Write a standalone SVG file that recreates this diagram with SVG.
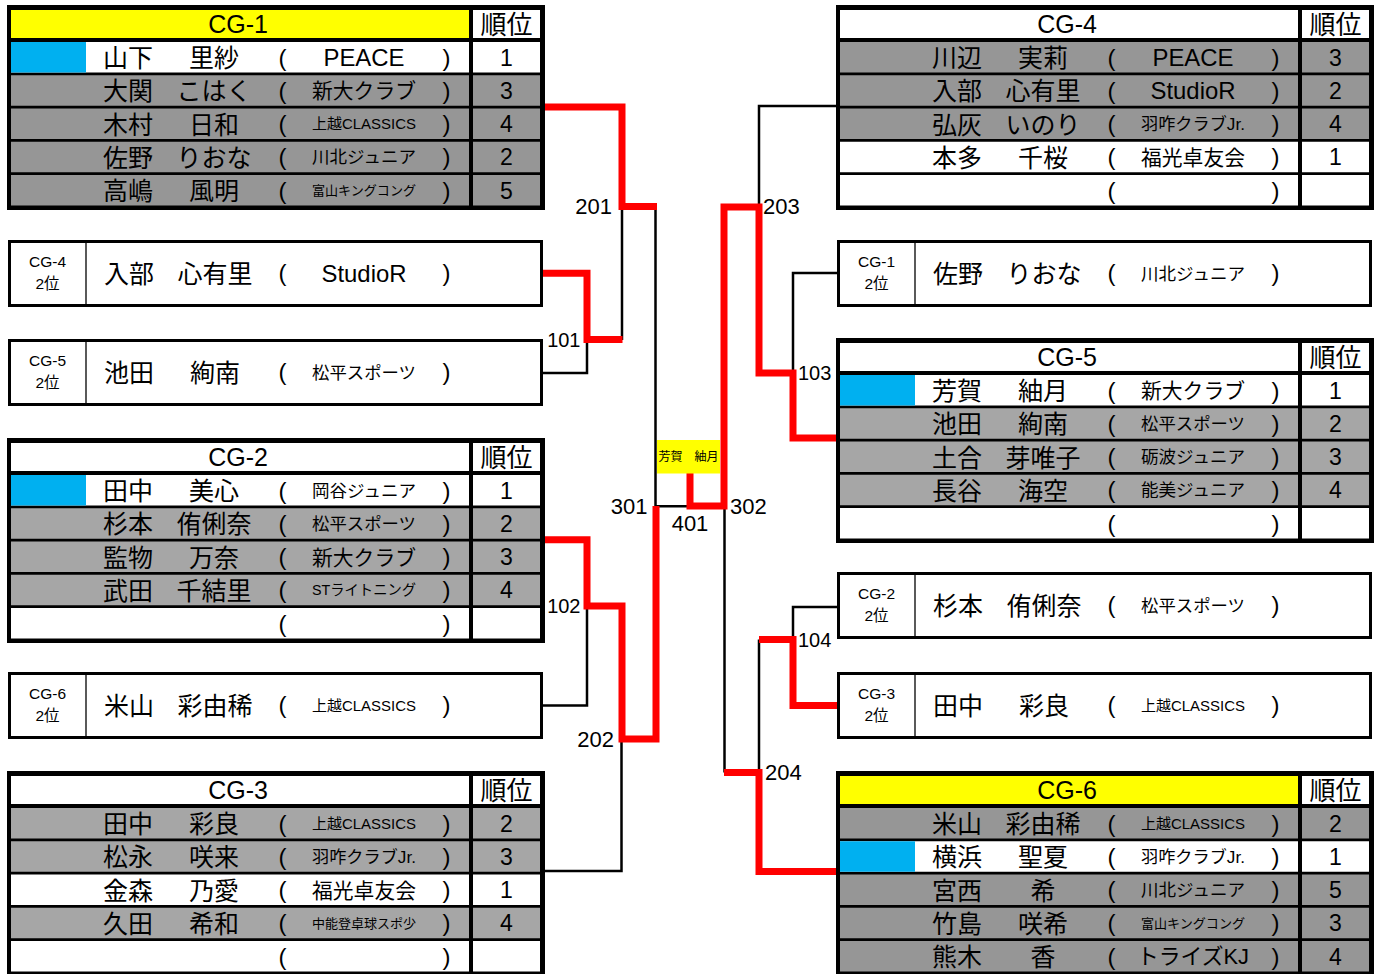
<svg xmlns="http://www.w3.org/2000/svg" width="1381" height="974" viewBox="0 0 1381 974">
<style>
text{font-family:"Liberation Sans","Noto Sans CJK JP",sans-serif;fill:#000}
.bk{fill:#000}.wh{fill:#fff}.g1{fill:#969696}.g2{fill:#a6a6a6}.yl{fill:#ffff00}.bl{fill:#00b0f0}
.hd{font-size:25px;text-anchor:middle}
.jh{font-size:26px;text-anchor:middle}
.nm{font-size:25px}
.gn{font-size:25px;text-anchor:middle}
.pa{font-size:24px;text-anchor:middle}
.rk{font-size:23px;text-anchor:middle}
.cl{text-anchor:middle}
.lb{font-size:15.5px;text-anchor:middle}
.bx{fill:#fff;stroke:#000;stroke-width:3}
.dv{stroke:#000;stroke-width:1.3}
.k{fill:none;stroke:#000;stroke-width:2.5}
.r{fill:none;stroke:#ff0000;stroke-width:7;stroke-linejoin:miter}
.n1{font-size:22px}
.n2{font-size:20px}
.e{text-anchor:end}.m{text-anchor:middle}
.fin{font-size:12px;text-anchor:middle}
</style>

<g id="connectors">
<path class="k" d="M543,373 H587 V340"/>
<path class="k" d="M622,340 V207"/>
<path class="k" d="M543,705.5 H587 V606"/>
<path class="k" d="M545,871 H621.5 V740"/>
<path class="k" d="M655.5,207 V506.3 H690"/>
<path class="k" d="M724.5,506 V772.5"/>
<path class="k" d="M836,106 H759 V207"/>
<path class="k" d="M837,273 H793 V373"/>
<path class="k" d="M837,607 H793 V639.5"/>
<path class="k" d="M759,639.5 V772.5"/>
<path class="r" d="M541,107 H622 V206.5 H657"/>
<path class="r" d="M541,273.3 H587 V339.5 H622.5"/>
<path class="r" d="M541,539.7 H587 V606 H622 V739 H656 V506"/>
<path class="r" d="M690,470 V506 H724 V207 H759 V373 H793 V438 H840"/>
<path class="r" d="M840,705.5 H793 V639.5 H759"/>
<path class="r" d="M724,772.5 H759 V871.5 H840"/>
<text class="n1 e" x="612" y="214">201</text>
<text class="n2 e" x="580.5" y="347">101</text>
<text class="n2 e" x="580.5" y="613">102</text>
<text class="n1 e" x="614" y="747">202</text>
<text class="n1 e" x="647.5" y="513.5">301</text>
<text class="n1 m" x="690" y="530.5">401</text>
<text class="n1" x="730" y="513.5">302</text>
<text class="n1" x="763" y="214">203</text>
<text class="n2" x="798" y="380">103</text>
<text class="n2" x="798" y="646.5">104</text>
<text class="n1" x="765" y="780">204</text>
</g>

<g id="final">
<rect x="657" y="440" width="63" height="33.5" class="yl"/>
<text class="fin" x="688.5" y="461">芳賀　紬月</text>
</g>

<!-- CG-1 -->
<g id="cg1" transform="translate(7,5)">
<rect width="538" height="205" class="bk"/>
<rect x="4" y="5" width="458" height="28" class="yl"/>
<rect x="466" y="5" width="67" height="28" class="wh"/>
<text x="231" y="28" class="hd">CG-1</text>
<text x="499.5" y="29" class="jh">順位</text>
<g>
<rect x="4" y="37" width="458" height="30.5" class="wh"/><rect x="4" y="37" width="75" height="30.5" class="bl"/><rect x="466" y="37" width="67" height="30.5" class="wh"/>
<text x="96" y="62" class="nm">山下</text><text x="207" y="62" class="gn">里紗</text><text x="275.5" y="60.5" class="pa">(</text><text x="357" y="61.1" class="cl" font-size="24" textLength="81" lengthAdjust="spacingAndGlyphs">PEACE</text><text x="439.5" y="60.5" class="pa">)</text><text x="499.5" y="60.5" class="rk">1</text>
</g>
<g transform="translate(0,33.25)">
<rect x="4" y="37" width="458" height="30.5" class="g1"/><rect x="466" y="37" width="67" height="30.5" class="g1"/>
<text x="96" y="62" class="nm">大関</text><text x="207" y="62" class="gn">こはく</text><text x="275.5" y="60.5" class="pa">(</text><text x="357" y="60" class="cl" font-size="21" textLength="104" lengthAdjust="spacingAndGlyphs">新大クラブ</text><text x="439.5" y="60.5" class="pa">)</text><text x="499.5" y="60.5" class="rk">3</text>
</g>
<g transform="translate(0,66.5)">
<rect x="4" y="37" width="458" height="30.5" class="g1"/><rect x="466" y="37" width="67" height="30.5" class="g1"/>
<text x="96" y="62" class="nm">木村</text><text x="207" y="62" class="gn">日和</text><text x="275.5" y="60.5" class="pa">(</text><text x="357" y="57.8" class="cl" font-size="15" textLength="104" lengthAdjust="spacingAndGlyphs">上越CLASSICS</text><text x="439.5" y="60.5" class="pa">)</text><text x="499.5" y="60.5" class="rk">4</text>
</g>
<g transform="translate(0,99.75)">
<rect x="4" y="37" width="458" height="30.5" class="g1"/><rect x="466" y="37" width="67" height="30.5" class="g1"/>
<text x="96" y="62" class="nm">佐野</text><text x="207" y="62" class="gn">りおな</text><text x="275.5" y="60.5" class="pa">(</text><text x="357" y="58.5" class="cl" font-size="17" textLength="104" lengthAdjust="spacingAndGlyphs">川北ジュニア</text><text x="439.5" y="60.5" class="pa">)</text><text x="499.5" y="60.5" class="rk">2</text>
</g>
<g transform="translate(0,133)">
<rect x="4" y="37" width="458" height="30.5" class="g1"/><rect x="466" y="37" width="67" height="30.5" class="g1"/>
<text x="96" y="62" class="nm">高嶋</text><text x="207" y="62" class="gn">風明</text><text x="275.5" y="60.5" class="pa">(</text><text x="357" y="57.1" class="cl" font-size="13" textLength="104" lengthAdjust="spacingAndGlyphs">富山キングコング</text><text x="439.5" y="60.5" class="pa">)</text><text x="499.5" y="60.5" class="rk">5</text>
</g>
</g>

<!-- CG-4 2位 (left) -->
<g id="l-cg4-2" transform="translate(8,240)">
<rect x="1.5" y="1.5" width="532" height="64" class="bx"/>
<line x1="78" y1="1.5" x2="78" y2="65.5" class="dv"/>
<text x="39.5" y="26.5" class="lb">CG-4</text><text x="39.5" y="48.5" class="lb">2位</text>
<text x="96" y="42.5" class="nm">入部</text><text x="207" y="42.5" class="gn">心有里</text><text x="274.5" y="41" class="pa">(</text><text x="356" y="42.4" class="cl" font-size="24" textLength="85" lengthAdjust="spacingAndGlyphs">StudioR</text><text x="438.5" y="41" class="pa">)</text>
</g>

<!-- CG-5 2位 (left) -->
<g id="l-cg5-2" transform="translate(8,339)">
<rect x="1.5" y="1.5" width="532" height="64" class="bx"/>
<line x1="78" y1="1.5" x2="78" y2="65.5" class="dv"/>
<text x="39.5" y="26.5" class="lb">CG-5</text><text x="39.5" y="48.5" class="lb">2位</text>
<text x="96" y="42.5" class="nm">池田</text><text x="207" y="42.5" class="gn">絢南</text><text x="274.5" y="41" class="pa">(</text><text x="356" y="39.8" class="cl" font-size="17" textLength="104" lengthAdjust="spacingAndGlyphs">松平スポーツ</text><text x="438.5" y="41" class="pa">)</text>
</g>

<!-- CG-2 -->
<g id="cg2" transform="translate(7,438)">
<rect width="538" height="205" class="bk"/>
<rect x="4" y="5" width="458" height="28" class="wh"/>
<rect x="466" y="5" width="67" height="28" class="wh"/>
<text x="231" y="28" class="hd">CG-2</text>
<text x="499.5" y="29" class="jh">順位</text>
<g>
<rect x="4" y="37" width="458" height="30.5" class="wh"/><rect x="4" y="37" width="75" height="30.5" class="bl"/><rect x="466" y="37" width="67" height="30.5" class="wh"/>
<text x="96" y="62" class="nm">田中</text><text x="207" y="62" class="gn">美心</text><text x="275.5" y="60.5" class="pa">(</text><text x="357" y="58.5" class="cl" font-size="17" textLength="104" lengthAdjust="spacingAndGlyphs">岡谷ジュニア</text><text x="439.5" y="60.5" class="pa">)</text><text x="499.5" y="60.5" class="rk">1</text>
</g>
<g transform="translate(0,33.25)">
<rect x="4" y="37" width="458" height="30.5" class="g2"/><rect x="466" y="37" width="67" height="30.5" class="g2"/>
<text x="96" y="62" class="nm">杉本</text><text x="207" y="62" class="gn">侑俐奈</text><text x="275.5" y="60.5" class="pa">(</text><text x="357" y="58.5" class="cl" font-size="17" textLength="104" lengthAdjust="spacingAndGlyphs">松平スポーツ</text><text x="439.5" y="60.5" class="pa">)</text><text x="499.5" y="60.5" class="rk">2</text>
</g>
<g transform="translate(0,66.5)">
<rect x="4" y="37" width="458" height="30.5" class="g2"/><rect x="466" y="37" width="67" height="30.5" class="g2"/>
<text x="96" y="62" class="nm">監物</text><text x="207" y="62" class="gn">万奈</text><text x="275.5" y="60.5" class="pa">(</text><text x="357" y="60" class="cl" font-size="21" textLength="104" lengthAdjust="spacingAndGlyphs">新大クラブ</text><text x="439.5" y="60.5" class="pa">)</text><text x="499.5" y="60.5" class="rk">3</text>
</g>
<g transform="translate(0,99.75)">
<rect x="4" y="37" width="458" height="30.5" class="g2"/><rect x="466" y="37" width="67" height="30.5" class="g2"/>
<text x="96" y="62" class="nm">武田</text><text x="207" y="62" class="gn">千結里</text><text x="275.5" y="60.5" class="pa">(</text><text x="357" y="57.6" class="cl" font-size="14.5" textLength="104" lengthAdjust="spacingAndGlyphs">STライトニング</text><text x="439.5" y="60.5" class="pa">)</text><text x="499.5" y="60.5" class="rk">4</text>
</g>
<g transform="translate(0,133)">
<rect x="4" y="37" width="458" height="30.5" class="wh"/><rect x="466" y="37" width="67" height="30.5" class="wh"/>
<text x="275.5" y="60.5" class="pa">(</text><text x="439.5" y="60.5" class="pa">)</text>
</g>
</g>

<!-- CG-6 2位 (left) -->
<g id="l-cg6-2" transform="translate(8,672)">
<rect x="1.5" y="1.5" width="532" height="64" class="bx"/>
<line x1="78" y1="1.5" x2="78" y2="65.5" class="dv"/>
<text x="39.5" y="26.5" class="lb">CG-6</text><text x="39.5" y="48.5" class="lb">2位</text>
<text x="96" y="42.5" class="nm">米山</text><text x="207" y="42.5" class="gn">彩由稀</text><text x="274.5" y="41" class="pa">(</text><text x="356" y="39" class="cl" font-size="15" textLength="104" lengthAdjust="spacingAndGlyphs">上越CLASSICS</text><text x="438.5" y="41" class="pa">)</text>
</g>

<!-- CG-3 -->
<g id="cg3" transform="translate(7,771)">
<rect width="538" height="205" class="bk"/>
<rect x="4" y="5" width="458" height="28" class="wh"/>
<rect x="466" y="5" width="67" height="28" class="wh"/>
<text x="231" y="28" class="hd">CG-3</text>
<text x="499.5" y="29" class="jh">順位</text>
<g>
<rect x="4" y="37" width="458" height="30.5" class="g2"/><rect x="466" y="37" width="67" height="30.5" class="g2"/>
<text x="96" y="62" class="nm">田中</text><text x="207" y="62" class="gn">彩良</text><text x="275.5" y="60.5" class="pa">(</text><text x="357" y="57.8" class="cl" font-size="15" textLength="104" lengthAdjust="spacingAndGlyphs">上越CLASSICS</text><text x="439.5" y="60.5" class="pa">)</text><text x="499.5" y="60.5" class="rk">2</text>
</g>
<g transform="translate(0,33.25)">
<rect x="4" y="37" width="458" height="30.5" class="g2"/><rect x="466" y="37" width="67" height="30.5" class="g2"/>
<text x="96" y="62" class="nm">松永</text><text x="207" y="62" class="gn">咲来</text><text x="275.5" y="60.5" class="pa">(</text><text x="357" y="58.5" class="cl" font-size="17" textLength="104" lengthAdjust="spacingAndGlyphs">羽咋クラブJr.</text><text x="439.5" y="60.5" class="pa">)</text><text x="499.5" y="60.5" class="rk">3</text>
</g>
<g transform="translate(0,66.5)">
<rect x="4" y="37" width="458" height="30.5" class="wh"/><rect x="466" y="37" width="67" height="30.5" class="wh"/>
<text x="96" y="62" class="nm">金森</text><text x="207" y="62" class="gn">乃愛</text><text x="275.5" y="60.5" class="pa">(</text><text x="357" y="60" class="cl" font-size="21" textLength="104" lengthAdjust="spacingAndGlyphs">福光卓友会</text><text x="439.5" y="60.5" class="pa">)</text><text x="499.5" y="60.5" class="rk">1</text>
</g>
<g transform="translate(0,99.75)">
<rect x="4" y="37" width="458" height="30.5" class="g2"/><rect x="466" y="37" width="67" height="30.5" class="g2"/>
<text x="96" y="62" class="nm">久田</text><text x="207" y="62" class="gn">希和</text><text x="275.5" y="60.5" class="pa">(</text><text x="357" y="57.1" class="cl" font-size="13" textLength="104" lengthAdjust="spacingAndGlyphs">中能登卓球スポ少</text><text x="439.5" y="60.5" class="pa">)</text><text x="499.5" y="60.5" class="rk">4</text>
</g>
<g transform="translate(0,133)">
<rect x="4" y="37" width="458" height="30.5" class="wh"/><rect x="466" y="37" width="67" height="30.5" class="wh"/>
<text x="275.5" y="60.5" class="pa">(</text><text x="439.5" y="60.5" class="pa">)</text>
</g>
</g>

<!-- CG-4 -->
<g id="cg4" transform="translate(836,5)">
<rect width="538" height="205" class="bk"/>
<rect x="4" y="5" width="458" height="28" class="wh"/>
<rect x="466" y="5" width="67" height="28" class="wh"/>
<text x="231" y="28" class="hd">CG-4</text>
<text x="499.5" y="29" class="jh">順位</text>
<g>
<rect x="4" y="37" width="458" height="30.5" class="g1"/><rect x="466" y="37" width="67" height="30.5" class="g1"/>
<text x="96" y="62" class="nm">川辺</text><text x="207" y="62" class="gn">実莉</text><text x="275.5" y="60.5" class="pa">(</text><text x="357" y="61.1" class="cl" font-size="24" textLength="81" lengthAdjust="spacingAndGlyphs">PEACE</text><text x="439.5" y="60.5" class="pa">)</text><text x="499.5" y="60.5" class="rk">3</text>
</g>
<g transform="translate(0,33.25)">
<rect x="4" y="37" width="458" height="30.5" class="g1"/><rect x="466" y="37" width="67" height="30.5" class="g1"/>
<text x="96" y="62" class="nm">入部</text><text x="207" y="62" class="gn">心有里</text><text x="275.5" y="60.5" class="pa">(</text><text x="357" y="61.1" class="cl" font-size="24" textLength="85" lengthAdjust="spacingAndGlyphs">StudioR</text><text x="439.5" y="60.5" class="pa">)</text><text x="499.5" y="60.5" class="rk">2</text>
</g>
<g transform="translate(0,66.5)">
<rect x="4" y="37" width="458" height="30.5" class="g1"/><rect x="466" y="37" width="67" height="30.5" class="g1"/>
<text x="96" y="62" class="nm">弘灰</text><text x="207" y="62" class="gn">いのり</text><text x="275.5" y="60.5" class="pa">(</text><text x="357" y="58.5" class="cl" font-size="17" textLength="104" lengthAdjust="spacingAndGlyphs">羽咋クラブJr.</text><text x="439.5" y="60.5" class="pa">)</text><text x="499.5" y="60.5" class="rk">4</text>
</g>
<g transform="translate(0,99.75)">
<rect x="4" y="37" width="458" height="30.5" class="wh"/><rect x="466" y="37" width="67" height="30.5" class="wh"/>
<text x="96" y="62" class="nm">本多</text><text x="207" y="62" class="gn">千桜</text><text x="275.5" y="60.5" class="pa">(</text><text x="357" y="60" class="cl" font-size="21" textLength="104" lengthAdjust="spacingAndGlyphs">福光卓友会</text><text x="439.5" y="60.5" class="pa">)</text><text x="499.5" y="60.5" class="rk">1</text>
</g>
<g transform="translate(0,133)">
<rect x="4" y="37" width="458" height="30.5" class="wh"/><rect x="466" y="37" width="67" height="30.5" class="wh"/>
<text x="275.5" y="60.5" class="pa">(</text><text x="439.5" y="60.5" class="pa">)</text>
</g>
</g>

<!-- CG-1 2位 (right) -->
<g id="r-cg1-2" transform="translate(837,240)">
<rect x="1.5" y="1.5" width="532" height="64" class="bx"/>
<line x1="78" y1="1.5" x2="78" y2="65.5" class="dv"/>
<text x="39.5" y="26.5" class="lb">CG-1</text><text x="39.5" y="48.5" class="lb">2位</text>
<text x="96" y="42.5" class="nm">佐野</text><text x="207" y="42.5" class="gn">りおな</text><text x="274.5" y="41" class="pa">(</text><text x="356" y="39.8" class="cl" font-size="17" textLength="104" lengthAdjust="spacingAndGlyphs">川北ジュニア</text><text x="438.5" y="41" class="pa">)</text>
</g>

<!-- CG-5 -->
<g id="cg5" transform="translate(836,338)">
<rect width="538" height="205" class="bk"/>
<rect x="4" y="5" width="458" height="28" class="wh"/>
<rect x="466" y="5" width="67" height="28" class="wh"/>
<text x="231" y="28" class="hd">CG-5</text>
<text x="499.5" y="29" class="jh">順位</text>
<g>
<rect x="4" y="37" width="458" height="30.5" class="wh"/><rect x="4" y="37" width="75" height="30.5" class="bl"/><rect x="466" y="37" width="67" height="30.5" class="wh"/>
<text x="96" y="62" class="nm">芳賀</text><text x="207" y="62" class="gn">紬月</text><text x="275.5" y="60.5" class="pa">(</text><text x="357" y="60" class="cl" font-size="21" textLength="104" lengthAdjust="spacingAndGlyphs">新大クラブ</text><text x="439.5" y="60.5" class="pa">)</text><text x="499.5" y="60.5" class="rk">1</text>
</g>
<g transform="translate(0,33.25)">
<rect x="4" y="37" width="458" height="30.5" class="g2"/><rect x="466" y="37" width="67" height="30.5" class="g2"/>
<text x="96" y="62" class="nm">池田</text><text x="207" y="62" class="gn">絢南</text><text x="275.5" y="60.5" class="pa">(</text><text x="357" y="58.5" class="cl" font-size="17" textLength="104" lengthAdjust="spacingAndGlyphs">松平スポーツ</text><text x="439.5" y="60.5" class="pa">)</text><text x="499.5" y="60.5" class="rk">2</text>
</g>
<g transform="translate(0,66.5)">
<rect x="4" y="37" width="458" height="30.5" class="g2"/><rect x="466" y="37" width="67" height="30.5" class="g2"/>
<text x="96" y="62" class="nm">土合</text><text x="207" y="62" class="gn">芽唯子</text><text x="275.5" y="60.5" class="pa">(</text><text x="357" y="58.5" class="cl" font-size="17" textLength="104" lengthAdjust="spacingAndGlyphs">砺波ジュニア</text><text x="439.5" y="60.5" class="pa">)</text><text x="499.5" y="60.5" class="rk">3</text>
</g>
<g transform="translate(0,99.75)">
<rect x="4" y="37" width="458" height="30.5" class="g2"/><rect x="466" y="37" width="67" height="30.5" class="g2"/>
<text x="96" y="62" class="nm">長谷</text><text x="207" y="62" class="gn">海空</text><text x="275.5" y="60.5" class="pa">(</text><text x="357" y="58.5" class="cl" font-size="17" textLength="104" lengthAdjust="spacingAndGlyphs">能美ジュニア</text><text x="439.5" y="60.5" class="pa">)</text><text x="499.5" y="60.5" class="rk">4</text>
</g>
<g transform="translate(0,133)">
<rect x="4" y="37" width="458" height="30.5" class="wh"/><rect x="466" y="37" width="67" height="30.5" class="wh"/>
<text x="275.5" y="60.5" class="pa">(</text><text x="439.5" y="60.5" class="pa">)</text>
</g>
</g>

<!-- CG-2 2位 (right) -->
<g id="r-cg2-2" transform="translate(837,572)">
<rect x="1.5" y="1.5" width="532" height="64" class="bx"/>
<line x1="78" y1="1.5" x2="78" y2="65.5" class="dv"/>
<text x="39.5" y="26.5" class="lb">CG-2</text><text x="39.5" y="48.5" class="lb">2位</text>
<text x="96" y="42.5" class="nm">杉本</text><text x="207" y="42.5" class="gn">侑俐奈</text><text x="274.5" y="41" class="pa">(</text><text x="356" y="39.8" class="cl" font-size="17" textLength="104" lengthAdjust="spacingAndGlyphs">松平スポーツ</text><text x="438.5" y="41" class="pa">)</text>
</g>

<!-- CG-3 2位 (right) -->
<g id="r-cg3-2" transform="translate(837,672)">
<rect x="1.5" y="1.5" width="532" height="64" class="bx"/>
<line x1="78" y1="1.5" x2="78" y2="65.5" class="dv"/>
<text x="39.5" y="26.5" class="lb">CG-3</text><text x="39.5" y="48.5" class="lb">2位</text>
<text x="96" y="42.5" class="nm">田中</text><text x="207" y="42.5" class="gn">彩良</text><text x="274.5" y="41" class="pa">(</text><text x="356" y="39" class="cl" font-size="15" textLength="104" lengthAdjust="spacingAndGlyphs">上越CLASSICS</text><text x="438.5" y="41" class="pa">)</text>
</g>

<!-- CG-6 -->
<g id="cg6" transform="translate(836,771)">
<rect width="538" height="205" class="bk"/>
<rect x="4" y="5" width="458" height="28" class="yl"/>
<rect x="466" y="5" width="67" height="28" class="wh"/>
<text x="231" y="28" class="hd">CG-6</text>
<text x="499.5" y="29" class="jh">順位</text>
<g>
<rect x="4" y="37" width="458" height="30.5" class="g1"/><rect x="466" y="37" width="67" height="30.5" class="g1"/>
<text x="96" y="62" class="nm">米山</text><text x="207" y="62" class="gn">彩由稀</text><text x="275.5" y="60.5" class="pa">(</text><text x="357" y="57.8" class="cl" font-size="15" textLength="104" lengthAdjust="spacingAndGlyphs">上越CLASSICS</text><text x="439.5" y="60.5" class="pa">)</text><text x="499.5" y="60.5" class="rk">2</text>
</g>
<g transform="translate(0,33.25)">
<rect x="4" y="37" width="458" height="30.5" class="wh"/><rect x="4" y="37" width="75" height="30.5" class="bl"/><rect x="466" y="37" width="67" height="30.5" class="wh"/>
<text x="96" y="62" class="nm">横浜</text><text x="207" y="62" class="gn">聖夏</text><text x="275.5" y="60.5" class="pa">(</text><text x="357" y="58.5" class="cl" font-size="17" textLength="104" lengthAdjust="spacingAndGlyphs">羽咋クラブJr.</text><text x="439.5" y="60.5" class="pa">)</text><text x="499.5" y="60.5" class="rk">1</text>
</g>
<g transform="translate(0,66.5)">
<rect x="4" y="37" width="458" height="30.5" class="g1"/><rect x="466" y="37" width="67" height="30.5" class="g1"/>
<text x="96" y="62" class="nm">宮西</text><text x="207" y="62" class="gn">希</text><text x="275.5" y="60.5" class="pa">(</text><text x="357" y="58.5" class="cl" font-size="17" textLength="104" lengthAdjust="spacingAndGlyphs">川北ジュニア</text><text x="439.5" y="60.5" class="pa">)</text><text x="499.5" y="60.5" class="rk">5</text>
</g>
<g transform="translate(0,99.75)">
<rect x="4" y="37" width="458" height="30.5" class="g1"/><rect x="466" y="37" width="67" height="30.5" class="g1"/>
<text x="96" y="62" class="nm">竹島</text><text x="207" y="62" class="gn">咲希</text><text x="275.5" y="60.5" class="pa">(</text><text x="357" y="57.1" class="cl" font-size="13" textLength="104" lengthAdjust="spacingAndGlyphs">富山キングコング</text><text x="439.5" y="60.5" class="pa">)</text><text x="499.5" y="60.5" class="rk">3</text>
</g>
<g transform="translate(0,133)">
<rect x="4" y="37" width="458" height="30.5" class="g1"/><rect x="466" y="37" width="67" height="30.5" class="g1"/>
<text x="96" y="62" class="nm">熊木</text><text x="207" y="62" class="gn">香</text><text x="275.5" y="60.5" class="pa">(</text><text x="357" y="60.4" class="cl" font-size="22" textLength="112" lengthAdjust="spacingAndGlyphs">トライズKJ</text><text x="439.5" y="60.5" class="pa">)</text><text x="499.5" y="60.5" class="rk">4</text>
</g>
</g>
</svg>
